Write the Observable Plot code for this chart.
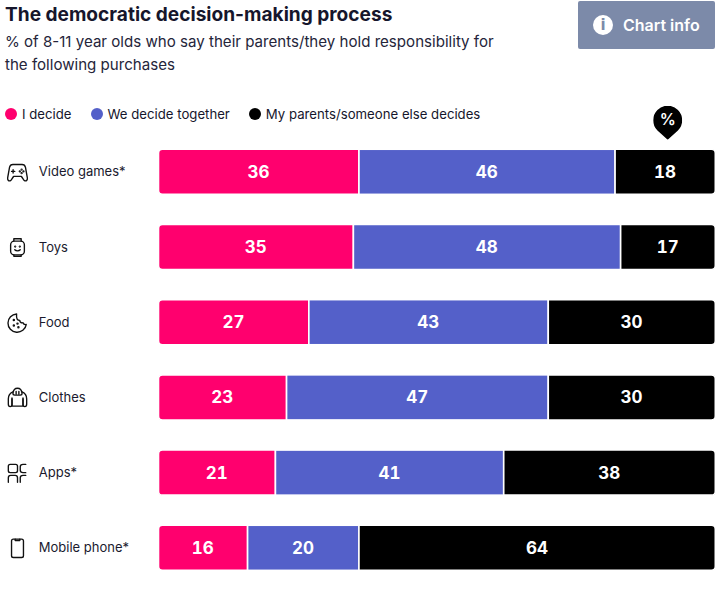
<!DOCTYPE html>
<html><head><meta charset="utf-8">
<script src="https://cdn.jsdelivr.net/npm/d3@7"></script>
<script src="https://cdn.jsdelivr.net/npm/@observablehq/plot@0.6"></script>
<style>
html,body{margin:0;padding:0;background:#fff;width:719px;height:589px;overflow:hidden;font-family:Inter,sans-serif;color:#16162c}
#wrap{position:relative;width:719px;height:589px}
#head{height:100px;box-sizing:border-box;padding:1px 0 0 5px}
h1{margin:0;font-size:19.1px;line-height:26px;font-weight:700;letter-spacing:0;white-space:nowrap}
p{margin:3px 0 0;font-size:15.1px;line-height:23px;width:495px;color:#25253a}
#btn{position:absolute;left:578px;top:1px;width:137px;height:48px;background:#7c8aa9;border-radius:2px;color:#fff;font-size:16px;font-weight:600;display:flex;align-items:center;box-sizing:border-box;padding-left:15px}
#btn i{width:20px;height:20px;border-radius:50%;background:#fff;color:#7c8aa9;font:700 15px/20px "DejaVu Sans",sans-serif;text-align:center;margin-right:10px}
#legend{position:absolute;left:5px;top:105px;display:flex;font-size:13.2px;line-height:18px;white-space:nowrap}
#legend span{display:flex;align-items:center;margin-right:19px}
#legend b{width:12px;height:12px;border-radius:50%;margin-right:5px;display:block}
svg{display:block;overflow:visible}
</style></head><body><div id="wrap">
<div id="head"><h1>The democratic decision-making process</h1>
<p>% of 8-11 year olds who say their parents/they hold responsibility for the following purchases</p></div>
<div id="btn"><i>i</i>Chart info</div>
<div id="legend"></div>
<div id="chart"></div>
</div>
<script>
const categories = ["Video games*","Toys","Food","Clothes","Apps*","Mobile phone*"];
const series = ["I decide","We decide together","My parents/someone else decides"];
const colors = ["#ff006e","#5460c9","#000000"];
const iDecide = [36,35,27,23,21,16];
const together = [46,48,43,47,41,20];
const others = [18,17,30,30,38,64];

const svgUri = s => "data:image/svg+xml," + encodeURIComponent(`<svg xmlns="http://www.w3.org/2000/svg" viewBox="0 0 24 24" fill="none" stroke="#111" stroke-width="1.5" stroke-linecap="round" stroke-linejoin="round">${s}</svg>`);
const icons = {
 "Video games*": svgUri('<path d="M7 3.500h10c2 0 3.200 1 3.700 3.200l2 11c.5 2.600-1 4-2.700 3.600-1.500-.5-2.500-3.800-4-4.800H8c-1.500 1-2.500 4.300-4 4.800-1.700.4-3.200-1-2.700-3.600l2-11C3.800 4.500 5 3.500 7 3.500z"/><path d="M5.500 11h3.500M7.200 9.200v3.600"/><circle cx="16.500" cy="9" r=".5"/><circle cx="18.500" cy="11" r=".5"/><circle cx="14.500" cy="11" r=".5"/><circle cx="16.500" cy="13" r=".5"/>'),
 "Toys": svgUri('<rect x="4.500" y="5" width="15" height="15" rx="4"/><path d="M8 5V2.500h8V5M8 20v1.500h8V20"/><circle cx="9.500" cy="11" r=".5"/><circle cx="14.500" cy="11" r=".5"/><path d="M9 14.500c1.500 1.500 4.500 1.500 6 0"/>'),
 "Food": svgUri('<path d="M11 2.500a10 10 0 1 0 10.500 11.500c-2 .5-3-.5-3.500-2-2 .5-3.500-.5-3.500-2.500-2.500 0-4-1.500-3.500-7z"/><circle cx="8" cy="9" r=".6"/><circle cx="8" cy="15" r=".6"/><circle cx="12" cy="13" r=".6"/><circle cx="13" cy="17" r=".6"/>'),
 "Clothes": svgUri('<path d="M7 7C7.500 3 10 1.500 12 1.500s4.500 1.500 5 5.500c0 1.500-1 2-2 2H9C8 9 7 8.500 7 7z"/><path d="M7 5.500C3.500 7 2 9.500 2 13v6c0 1.500 1 2.500 2 2.500s2-1 2-2.500v-6"/><path d="M17 5.500c3.500 1.500 5 4 5 7.500v6c0 1.500-1 2.500-2 2.500s-2-1-2-2.500v-6"/><path d="M6 21h12M18 12v9M6 12v9M10.500 5v3M13.500 5v3"/>'),
 "Apps*": svgUri('<rect x="2" y="2.500" width="10" height="9" rx="2"/><path d="M21 2.500h-3c-1.500 0-3 1-3 2.500v4c0 1.500 1.500 2.500 3 2.500h3"/><path d="M2 22v-5c0-1.500 1-2.500 2.500-2.500h5c1.500 0 2.500 1 2.500 2.500v5M15 22v-5c0-1.500 1-2.500 3-2.500h3"/>'),
 "Mobile phone*": svgUri('<rect x="5.500" y="2" width="13" height="20" rx="2"/><path d="M9.500 2v1.500h5V2"/>')
};
const pin = "data:image/svg+xml," + encodeURIComponent('<svg xmlns="http://www.w3.org/2000/svg" viewBox="0 0 29 34"><path fill="#000" d="M14.500 34L4.250 24.750A14.500 14.500 0 1 1 24.750 24.750Z"/></svg>');

const rows = categories.flatMap((c,i)=>[
  {category:c, series:series[0], value:iDecide[i]},
  {category:c, series:series[1], value:together[i]},
  {category:c, series:series[2], value:others[i]}
]);
const stackOpts = {x:"value", y:"category", z:"series", order:null};
const barOpts = {...stackOpts, fill:"series", stroke:"#fff", strokeWidth:1.6};
const isSeries = i => d => d.series === series[i];

document.getElementById("legend").innerHTML = series.map((s,i)=>`<span><b style="background:${colors[i]}"></b>${s}</span>`).join("");

const plot = Plot.plot({
  width:719, height:489,
  marginLeft:158.5, marginRight:3.7, marginTop:34.2, marginBottom:3.6,
  style:{background:"transparent"},
  x:{domain:[0,100], axis:null},
  y:{domain:categories, padding:0.4, paddingOuter:0.2, align:0.5, round:false, axis:null},
  color:{domain:series, range:colors},
  marks:[
    Plot.barX(rows, Plot.filter(isSeries(0), Plot.stackX({...barOpts, rx1:4}))),
    Plot.barX(rows, Plot.filter(isSeries(1), Plot.stackX(barOpts))),
    Plot.barX(rows, Plot.filter(isSeries(2), Plot.stackX({...barOpts, rx2:4}))),
    Plot.text(rows, Plot.stackX({...stackOpts, text:"value", dx:-0.7, fill:"#fff", fontSize:17, fontWeight:700, fontFamily:"Inter, sans-serif"})),
    Plot.image(categories, {y:d=>d, src:d=>icons[d], frameAnchor:"left", dx:-141.5, width:22, height:22}),
    Plot.text(categories, {y:d=>d, text:d=>d, frameAnchor:"left", textAnchor:"start", dx:-120.2, fill:"#1a1a2e", fontSize:13, fontFamily:"Inter, sans-serif"}),
    Plot.image([91], {x:d=>d, src:[pin], frameAnchor:"top", dx:2, dy:-12, width:29, height:34}),
    Plot.text([91], {x:d=>d, text:["%"], frameAnchor:"top", lineAnchor:"middle", dx:2, dy:-15, fill:"#fff", fontSize:16, fontWeight:600, fontFamily:"Inter, sans-serif"})
  ]
});
document.getElementById("chart").appendChild(plot);
</script></body></html>
